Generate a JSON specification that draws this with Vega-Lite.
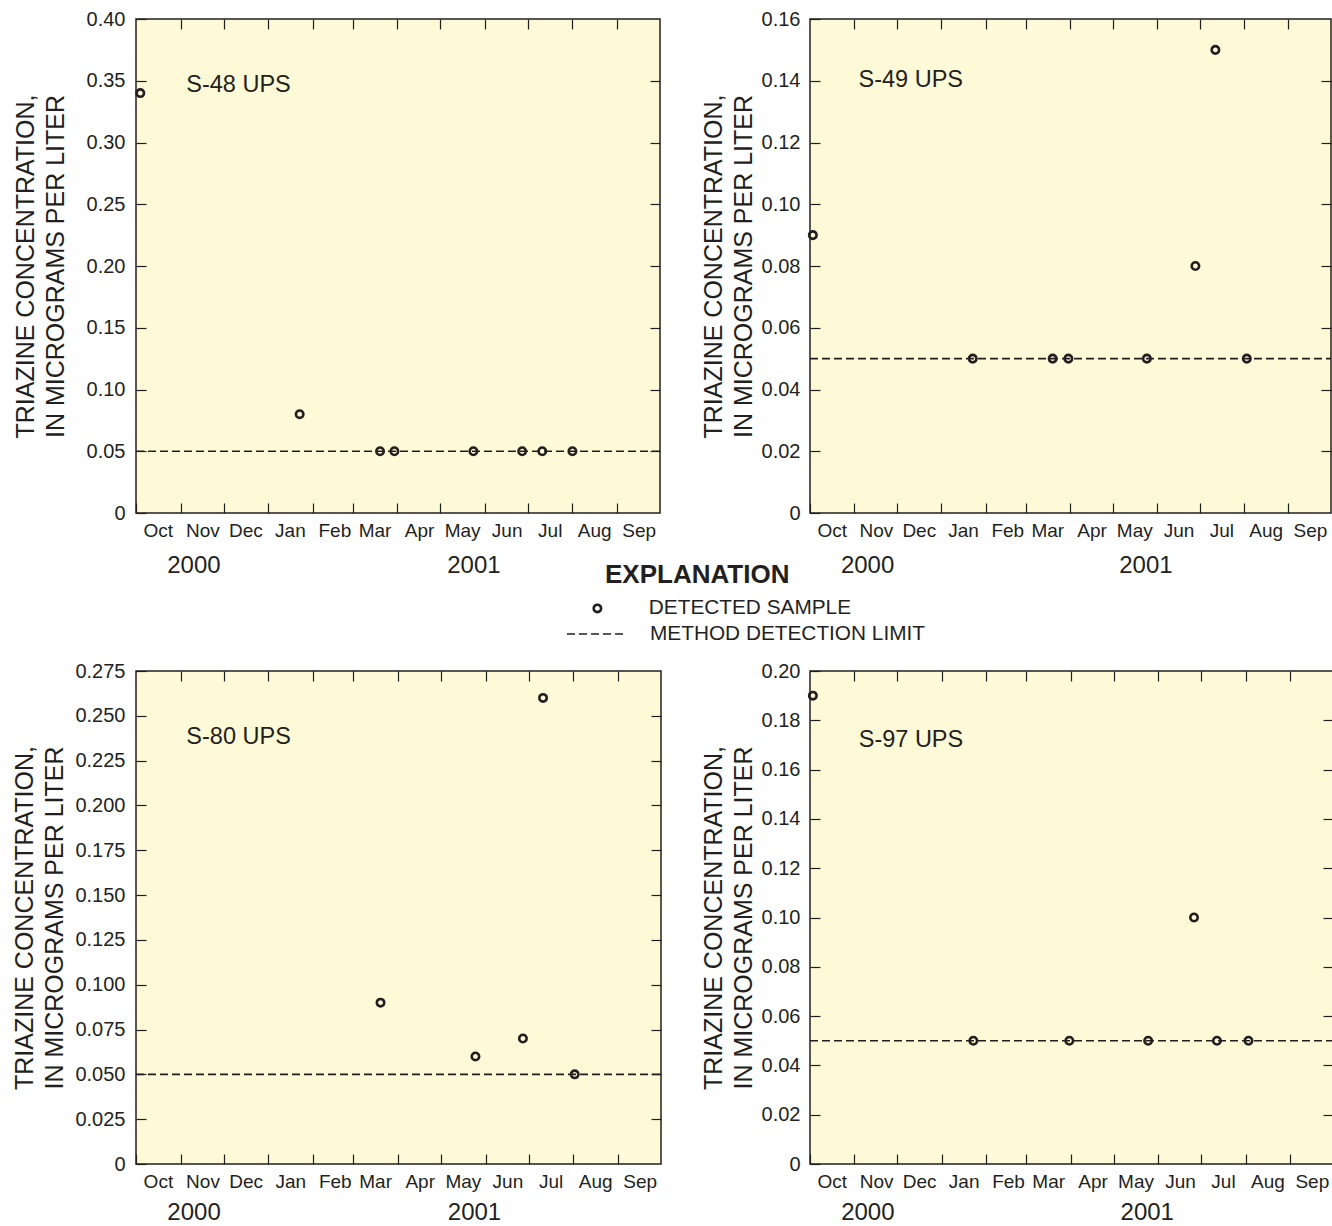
{
  "$schema": "https://vega.github.io/schema/vega-lite/v6.json",
  "padding": {"left": 12, "top": 8, "right": 0, "bottom": 0},
  "background": "white",
  "datasets": {
    "s48": [
      {"date": "2000-10-04", "conc": 0.34},
      {"date": "2001-01-23", "conc": 0.08},
      {"date": "2001-03-20", "conc": 0.05},
      {"date": "2001-03-30", "conc": 0.05},
      {"date": "2001-05-24", "conc": 0.05},
      {"date": "2001-06-27", "conc": 0.05},
      {"date": "2001-07-11", "conc": 0.05},
      {"date": "2001-08-01", "conc": 0.05}
    ],
    "s49": [
      {"date": "2000-10-03", "conc": 0.09},
      {"date": "2001-01-23", "conc": 0.05},
      {"date": "2001-03-20", "conc": 0.05},
      {"date": "2001-03-31", "conc": 0.05},
      {"date": "2001-05-25", "conc": 0.05},
      {"date": "2001-06-28", "conc": 0.08},
      {"date": "2001-07-12", "conc": 0.15},
      {"date": "2001-08-03", "conc": 0.05}
    ],
    "s80": [
      {"date": "2001-03-20", "conc": 0.09},
      {"date": "2001-05-25", "conc": 0.06},
      {"date": "2001-06-27", "conc": 0.07},
      {"date": "2001-07-11", "conc": 0.26},
      {"date": "2001-08-02", "conc": 0.05}
    ],
    "s97": [
      {"date": "2000-10-03", "conc": 0.19},
      {"date": "2001-01-23", "conc": 0.05},
      {"date": "2001-03-31", "conc": 0.05},
      {"date": "2001-05-25", "conc": 0.05},
      {"date": "2001-06-26", "conc": 0.10},
      {"date": "2001-07-12", "conc": 0.05},
      {"date": "2001-08-03", "conc": 0.05}
    ],
    "mdl": [{"limit": 0.05}],
    "lab48": [{"station": "S-48 UPS"}],
    "lab49": [{"station": "S-49 UPS"}],
    "lab80": [{"station": "S-80 UPS"}],
    "lab97": [{"station": "S-97 UPS"}]
  },
  "config": {
    "font": "Liberation Sans",
    "view": {"fill": "#fef9d6", "stroke": "#231f20", "strokeWidth": 1.5},
    "axis": {
      "grid": false,
      "domain": false,
      "tickColor": "#231f20",
      "tickWidth": 1.2,
      "labelColor": "#231f20",
      "labelFont": "Liberation Sans",
      "titleFont": "Liberation Sans",
      "titleColor": "#231f20",
      "titleFontWeight": "normal",
      "labelFlush": false,
      "labelOverlap": false
    },
    "legend": {
      "labelFont": "Liberation Sans",
      "labelColor": "#231f20",
      "labelFontSize": 20.8,
      "labelLimit": 500,
      "titleLimit": 500,
      "titleFont": "Liberation Sans",
      "titleColor": "#231f20",
      "padding": 0
    }
  },
  "spacing": 82,
  "vconcat": [
    {
      "spacing": 38,
      "hconcat": [
        {
          "width": 524,
          "height": 494,
          "resolve": {"axis": {"x": "independent", "y": "independent"}},
          "layer": [
            {
              "data": {"name": "mdl"},
              "mark": {"type": "rule", "color": "#231f20", "strokeWidth": 1.6},
              "encoding": {
                "x": {"datum": {"year": 2000, "month": 10, "date": 1, "utc": true}, "type": "temporal",
                  "scale": {"type": "utc", "nice": false, "domain": [{"year": 2000, "month": 10, "date": 1, "utc": true}, {"year": 2001, "month": 10, "date": 1, "utc": true}]},
                  "axis": {"orient": "top", "labels": false, "tickSize": -10, "title": null,
                    "values": [{"year": 2000, "month": 11, "date": 1, "utc": true}, {"year": 2000, "month": 12, "date": 1, "utc": true}, {"year": 2001, "month": 1, "date": 1, "utc": true}, {"year": 2001, "month": 2, "date": 1, "utc": true}, {"year": 2001, "month": 3, "date": 1, "utc": true}, {"year": 2001, "month": 4, "date": 1, "utc": true}, {"year": 2001, "month": 5, "date": 1, "utc": true}, {"year": 2001, "month": 6, "date": 1, "utc": true}, {"year": 2001, "month": 7, "date": 1, "utc": true}, {"year": 2001, "month": 8, "date": 1, "utc": true}, {"year": 2001, "month": 9, "date": 1, "utc": true}]}},
                "x2": {"datum": {"year": 2001, "month": 10, "date": 1, "utc": true}},
                "y": {"field": "limit", "type": "quantitative", "scale": {"domain": [0, 0.4], "nice": false},
                  "axis": {"orient": "right", "labels": false, "tickSize": -10, "title": null, "values": [0.05, 0.1, 0.15, 0.2, 0.25, 0.3, 0.35]}},
                "strokeDash": {"datum": "METHOD DETECTION LIMIT", "type": "nominal", "scale": {"range": [[8, 4]]},
                  "legend": {"title": null, "orient": "none", "legendX": 430, "legendY": 584, "symbolType": "stroke", "symbolSize": 3600, "symbolStrokeWidth": 1.6, "symbolStrokeColor": "#231f20", "labelOffset": 22}}
              }
            },
            {
              "data": {"name": "s48"},
              "mark": {"type": "point", "shape": "circle", "filled": false, "size": 55, "strokeWidth": 2.6, "color": "#231f20", "opacity": 1},
              "encoding": {
                "x": {"field": "date", "type": "temporal",
                  "axis": {"orient": "bottom", "tickSize": -10, "title": null, "labelFontSize": 19, "labelPadding": 18, "labelOffset": 21.8, "labelAlign": "center", "labelBaseline": "top", "labelExpr": "utcFormat(datum.value, '%b')",
                    "values": [{"year": 2000, "month": 10, "date": 1, "utc": true}, {"year": 2000, "month": 11, "date": 1, "utc": true}, {"year": 2000, "month": 12, "date": 1, "utc": true}, {"year": 2001, "month": 1, "date": 1, "utc": true}, {"year": 2001, "month": 2, "date": 1, "utc": true}, {"year": 2001, "month": 3, "date": 1, "utc": true}, {"year": 2001, "month": 4, "date": 1, "utc": true}, {"year": 2001, "month": 5, "date": 1, "utc": true}, {"year": 2001, "month": 6, "date": 1, "utc": true}, {"year": 2001, "month": 7, "date": 1, "utc": true}, {"year": 2001, "month": 8, "date": 1, "utc": true}, {"year": 2001, "month": 9, "date": 1, "utc": true}]}},
                "y": {"field": "conc", "type": "quantitative",
                  "axis": {"orient": "left", "tickSize": -10, "labelFontSize": 20, "labelPadding": 21, "labelExpr": "datum.value == 0 ? '0' : format(datum.value, '.2f')",
                    "values": [0, 0.05, 0.1, 0.15, 0.2, 0.25, 0.3, 0.35, 0.4],
                    "title": ["TRIAZINE CONCENTRATION,", "IN MICROGRAMS PER LITER"], "titleFontSize": 25, "titleLineHeight": 30, "titlePadding": 18}},
                "shape": {"datum": "DETECTED SAMPLE", "type": "nominal", "scale": {"range": ["circle"]},
                  "legend": {"title": "EXPLANATION", "titleFontSize": 26, "titleFontWeight": "bold", "titleAnchor": "start", "titlePadding": 10, "orient": "none", "legendX": 469, "legendY": 543, "symbolSize": 55, "symbolStrokeWidth": 2.6, "symbolStrokeColor": "#231f20", "symbolFillColor": "transparent", "symbolOffset": -18, "labelOffset": 41}}
              }
            },
            {
              "data": {"name": "lab48"},
              "mark": {"type": "text", "align": "left", "baseline": "middle", "fontSize": 23.5, "color": "#231f20"},
              "encoding": {
                "x": {"datum": {"year": 2000, "month": 11, "date": 5, "utc": true}, "type": "temporal",
                  "axis": {"orient": "bottom", "ticks": false, "title": null, "labelFontSize": 24, "labelPadding": 40, "labelAlign": "center", "labelBaseline": "top", "labelExpr": "utcFormat(datum.value, '%Y')",
                    "values": [{"year": 2000, "month": 11, "date": 10, "utc": true}, {"year": 2001, "month": 5, "date": 24, "utc": true}]}},
                "y": {"datum": 0.3466, "type": "quantitative", "axis": null},
                "text": {"field": "station"}
              }
            }
          ]
        },
        {
          "width": 521,
          "height": 494,
          "resolve": {"axis": {"x": "independent", "y": "independent"}},
          "layer": [
            {
              "data": {"name": "mdl"},
              "mark": {"type": "rule", "color": "#231f20", "strokeWidth": 1.6},
              "encoding": {
                "x": {"datum": {"year": 2000, "month": 10, "date": 1, "utc": true}, "type": "temporal",
                  "scale": {"type": "utc", "nice": false, "domain": [{"year": 2000, "month": 10, "date": 1, "utc": true}, {"year": 2001, "month": 10, "date": 1, "utc": true}]},
                  "axis": {"orient": "top", "labels": false, "tickSize": -10, "title": null,
                    "values": [{"year": 2000, "month": 11, "date": 1, "utc": true}, {"year": 2000, "month": 12, "date": 1, "utc": true}, {"year": 2001, "month": 1, "date": 1, "utc": true}, {"year": 2001, "month": 2, "date": 1, "utc": true}, {"year": 2001, "month": 3, "date": 1, "utc": true}, {"year": 2001, "month": 4, "date": 1, "utc": true}, {"year": 2001, "month": 5, "date": 1, "utc": true}, {"year": 2001, "month": 6, "date": 1, "utc": true}, {"year": 2001, "month": 7, "date": 1, "utc": true}, {"year": 2001, "month": 8, "date": 1, "utc": true}, {"year": 2001, "month": 9, "date": 1, "utc": true}]}},
                "x2": {"datum": {"year": 2001, "month": 10, "date": 1, "utc": true}},
                "y": {"field": "limit", "type": "quantitative", "scale": {"domain": [0, 0.16], "nice": false},
                  "axis": {"orient": "right", "labels": false, "tickSize": -10, "title": null, "values": [0.02, 0.04, 0.06, 0.08, 0.1, 0.12, 0.14]}},
                "strokeDash": {"datum": "METHOD DETECTION LIMIT", "type": "nominal", "legend": null}
              }
            },
            {
              "data": {"name": "s49"},
              "mark": {"type": "point", "shape": "circle", "filled": false, "size": 55, "strokeWidth": 2.6, "color": "#231f20", "opacity": 1},
              "encoding": {
                "x": {"field": "date", "type": "temporal",
                  "axis": {"orient": "bottom", "tickSize": -10, "title": null, "labelFontSize": 19, "labelPadding": 18, "labelOffset": 21.7, "labelAlign": "center", "labelBaseline": "top", "labelExpr": "utcFormat(datum.value, '%b')",
                    "values": [{"year": 2000, "month": 10, "date": 1, "utc": true}, {"year": 2000, "month": 11, "date": 1, "utc": true}, {"year": 2000, "month": 12, "date": 1, "utc": true}, {"year": 2001, "month": 1, "date": 1, "utc": true}, {"year": 2001, "month": 2, "date": 1, "utc": true}, {"year": 2001, "month": 3, "date": 1, "utc": true}, {"year": 2001, "month": 4, "date": 1, "utc": true}, {"year": 2001, "month": 5, "date": 1, "utc": true}, {"year": 2001, "month": 6, "date": 1, "utc": true}, {"year": 2001, "month": 7, "date": 1, "utc": true}, {"year": 2001, "month": 8, "date": 1, "utc": true}, {"year": 2001, "month": 9, "date": 1, "utc": true}]}},
                "y": {"field": "conc", "type": "quantitative",
                  "axis": {"orient": "left", "tickSize": -10, "labelFontSize": 20, "labelPadding": 20, "labelExpr": "datum.value == 0 ? '0' : format(datum.value, '.2f')",
                    "values": [0, 0.02, 0.04, 0.06, 0.08, 0.1, 0.12, 0.14, 0.16],
                    "title": ["TRIAZINE CONCENTRATION,", "IN MICROGRAMS PER LITER"], "titleFontSize": 25, "titleLineHeight": 30, "titlePadding": 5}},
                "shape": {"datum": "DETECTED SAMPLE", "type": "nominal", "legend": null}
              }
            },
            {
              "data": {"name": "lab49"},
              "mark": {"type": "text", "align": "left", "baseline": "middle", "fontSize": 23.5, "color": "#231f20"},
              "encoding": {
                "x": {"datum": {"year": 2000, "month": 11, "date": 4, "utc": true}, "type": "temporal",
                  "axis": {"orient": "bottom", "ticks": false, "title": null, "labelFontSize": 24, "labelPadding": 40, "labelAlign": "center", "labelBaseline": "top", "labelExpr": "utcFormat(datum.value, '%Y')",
                    "values": [{"year": 2000, "month": 11, "date": 10, "utc": true}, {"year": 2001, "month": 5, "date": 24, "utc": true}]}},
                "y": {"datum": 0.1402, "type": "quantitative", "axis": null},
                "text": {"field": "station"}
              }
            }
          ]
        }
      ]
    },
    {
      "spacing": 37,
      "hconcat": [
        {
          "width": 525,
          "height": 493,
          "resolve": {"axis": {"x": "independent", "y": "independent"}},
          "layer": [
            {
              "data": {"name": "mdl"},
              "mark": {"type": "rule", "color": "#231f20", "strokeWidth": 1.6},
              "encoding": {
                "x": {"datum": {"year": 2000, "month": 10, "date": 1, "utc": true}, "type": "temporal",
                  "scale": {"type": "utc", "nice": false, "domain": [{"year": 2000, "month": 10, "date": 1, "utc": true}, {"year": 2001, "month": 10, "date": 1, "utc": true}]},
                  "axis": {"orient": "top", "labels": false, "tickSize": -10, "title": null,
                    "values": [{"year": 2000, "month": 11, "date": 1, "utc": true}, {"year": 2000, "month": 12, "date": 1, "utc": true}, {"year": 2001, "month": 1, "date": 1, "utc": true}, {"year": 2001, "month": 2, "date": 1, "utc": true}, {"year": 2001, "month": 3, "date": 1, "utc": true}, {"year": 2001, "month": 4, "date": 1, "utc": true}, {"year": 2001, "month": 5, "date": 1, "utc": true}, {"year": 2001, "month": 6, "date": 1, "utc": true}, {"year": 2001, "month": 7, "date": 1, "utc": true}, {"year": 2001, "month": 8, "date": 1, "utc": true}, {"year": 2001, "month": 9, "date": 1, "utc": true}]}},
                "x2": {"datum": {"year": 2001, "month": 10, "date": 1, "utc": true}},
                "y": {"field": "limit", "type": "quantitative", "scale": {"domain": [0, 0.275], "nice": false},
                  "axis": {"orient": "right", "labels": false, "tickSize": -10, "title": null, "values": [0.025, 0.05, 0.075, 0.1, 0.125, 0.15, 0.175, 0.2, 0.225, 0.25]}},
                "strokeDash": {"datum": "METHOD DETECTION LIMIT", "type": "nominal", "legend": null}
              }
            },
            {
              "data": {"name": "s80"},
              "mark": {"type": "point", "shape": "circle", "filled": false, "size": 55, "strokeWidth": 2.6, "color": "#231f20", "opacity": 1},
              "encoding": {
                "x": {"field": "date", "type": "temporal",
                  "axis": {"orient": "bottom", "tickSize": -10, "title": null, "labelFontSize": 19, "labelPadding": 18, "labelOffset": 21.9, "labelAlign": "center", "labelBaseline": "top", "labelExpr": "utcFormat(datum.value, '%b')",
                    "values": [{"year": 2000, "month": 10, "date": 1, "utc": true}, {"year": 2000, "month": 11, "date": 1, "utc": true}, {"year": 2000, "month": 12, "date": 1, "utc": true}, {"year": 2001, "month": 1, "date": 1, "utc": true}, {"year": 2001, "month": 2, "date": 1, "utc": true}, {"year": 2001, "month": 3, "date": 1, "utc": true}, {"year": 2001, "month": 4, "date": 1, "utc": true}, {"year": 2001, "month": 5, "date": 1, "utc": true}, {"year": 2001, "month": 6, "date": 1, "utc": true}, {"year": 2001, "month": 7, "date": 1, "utc": true}, {"year": 2001, "month": 8, "date": 1, "utc": true}, {"year": 2001, "month": 9, "date": 1, "utc": true}]}},
                "y": {"field": "conc", "type": "quantitative",
                  "axis": {"orient": "left", "tickSize": -10, "labelFontSize": 20, "labelPadding": 21, "labelExpr": "datum.value == 0 ? '0' : format(datum.value, '.3f')",
                    "values": [0, 0.025, 0.05, 0.075, 0.1, 0.125, 0.15, 0.175, 0.2, 0.225, 0.25, 0.275],
                    "title": ["TRIAZINE CONCENTRATION,", "IN MICROGRAMS PER LITER"], "titleFontSize": 25, "titleLineHeight": 30, "titlePadding": 7}},
                "shape": {"datum": "DETECTED SAMPLE", "type": "nominal", "legend": null}
              }
            },
            {
              "data": {"name": "lab80"},
              "mark": {"type": "text", "align": "left", "baseline": "middle", "fontSize": 23.5, "color": "#231f20"},
              "encoding": {
                "x": {"datum": {"year": 2000, "month": 11, "date": 5, "utc": true}, "type": "temporal",
                  "axis": {"orient": "bottom", "ticks": false, "title": null, "labelFontSize": 24, "labelPadding": 36, "labelAlign": "center", "labelBaseline": "top", "labelExpr": "utcFormat(datum.value, '%Y')",
                    "values": [{"year": 2000, "month": 11, "date": 10, "utc": true}, {"year": 2001, "month": 5, "date": 24, "utc": true}]}},
                "y": {"datum": 0.2382, "type": "quantitative", "axis": null},
                "text": {"field": "station"}
              }
            }
          ]
        },
        {
          "width": 523,
          "height": 493,
          "resolve": {"axis": {"x": "independent", "y": "independent"}},
          "layer": [
            {
              "data": {"name": "mdl"},
              "mark": {"type": "rule", "color": "#231f20", "strokeWidth": 1.6},
              "encoding": {
                "x": {"datum": {"year": 2000, "month": 10, "date": 1, "utc": true}, "type": "temporal",
                  "scale": {"type": "utc", "nice": false, "domain": [{"year": 2000, "month": 10, "date": 1, "utc": true}, {"year": 2001, "month": 10, "date": 1, "utc": true}]},
                  "axis": {"orient": "top", "labels": false, "tickSize": -10, "title": null,
                    "values": [{"year": 2000, "month": 11, "date": 1, "utc": true}, {"year": 2000, "month": 12, "date": 1, "utc": true}, {"year": 2001, "month": 1, "date": 1, "utc": true}, {"year": 2001, "month": 2, "date": 1, "utc": true}, {"year": 2001, "month": 3, "date": 1, "utc": true}, {"year": 2001, "month": 4, "date": 1, "utc": true}, {"year": 2001, "month": 5, "date": 1, "utc": true}, {"year": 2001, "month": 6, "date": 1, "utc": true}, {"year": 2001, "month": 7, "date": 1, "utc": true}, {"year": 2001, "month": 8, "date": 1, "utc": true}, {"year": 2001, "month": 9, "date": 1, "utc": true}]}},
                "x2": {"datum": {"year": 2001, "month": 10, "date": 1, "utc": true}},
                "y": {"field": "limit", "type": "quantitative", "scale": {"domain": [0, 0.2], "nice": false},
                  "axis": {"orient": "right", "labels": false, "tickSize": -10, "title": null, "values": [0.02, 0.04, 0.06, 0.08, 0.1, 0.12, 0.14, 0.16, 0.18]}},
                "strokeDash": {"datum": "METHOD DETECTION LIMIT", "type": "nominal", "legend": null}
              }
            },
            {
              "data": {"name": "s97"},
              "mark": {"type": "point", "shape": "circle", "filled": false, "size": 55, "strokeWidth": 2.6, "color": "#231f20", "opacity": 1},
              "encoding": {
                "x": {"field": "date", "type": "temporal",
                  "axis": {"orient": "bottom", "tickSize": -10, "title": null, "labelFontSize": 19, "labelPadding": 18, "labelOffset": 21.8, "labelAlign": "center", "labelBaseline": "top", "labelExpr": "utcFormat(datum.value, '%b')",
                    "values": [{"year": 2000, "month": 10, "date": 1, "utc": true}, {"year": 2000, "month": 11, "date": 1, "utc": true}, {"year": 2000, "month": 12, "date": 1, "utc": true}, {"year": 2001, "month": 1, "date": 1, "utc": true}, {"year": 2001, "month": 2, "date": 1, "utc": true}, {"year": 2001, "month": 3, "date": 1, "utc": true}, {"year": 2001, "month": 4, "date": 1, "utc": true}, {"year": 2001, "month": 5, "date": 1, "utc": true}, {"year": 2001, "month": 6, "date": 1, "utc": true}, {"year": 2001, "month": 7, "date": 1, "utc": true}, {"year": 2001, "month": 8, "date": 1, "utc": true}, {"year": 2001, "month": 9, "date": 1, "utc": true}]}},
                "y": {"field": "conc", "type": "quantitative",
                  "axis": {"orient": "left", "tickSize": -10, "labelFontSize": 20, "labelPadding": 20, "labelExpr": "datum.value == 0 ? '0' : format(datum.value, '.2f')",
                    "values": [0, 0.02, 0.04, 0.06, 0.08, 0.1, 0.12, 0.14, 0.16, 0.18, 0.2],
                    "title": ["TRIAZINE CONCENTRATION,", "IN MICROGRAMS PER LITER"], "titleFontSize": 25, "titleLineHeight": 30, "titlePadding": 5}},
                "shape": {"datum": "DETECTED SAMPLE", "type": "nominal", "legend": null}
              }
            },
            {
              "data": {"name": "lab97"},
              "mark": {"type": "text", "align": "left", "baseline": "middle", "fontSize": 23.5, "color": "#231f20"},
              "encoding": {
                "x": {"datum": {"year": 2000, "month": 11, "date": 4, "utc": true}, "type": "temporal",
                  "axis": {"orient": "bottom", "ticks": false, "title": null, "labelFontSize": 24, "labelPadding": 36, "labelAlign": "center", "labelBaseline": "top", "labelExpr": "utcFormat(datum.value, '%Y')",
                    "values": [{"year": 2000, "month": 11, "date": 10, "utc": true}, {"year": 2001, "month": 5, "date": 24, "utc": true}]}},
                "y": {"datum": 0.172, "type": "quantitative", "axis": null},
                "text": {"field": "station"}
              }
            }
          ]
        }
      ]
    }
  ]
}
